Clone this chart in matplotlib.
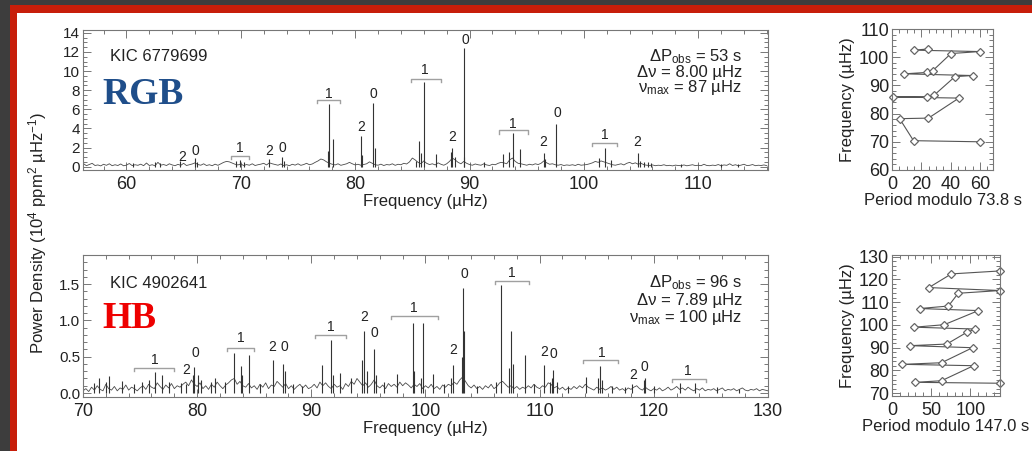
import numpy as np
import matplotlib
matplotlib.use('Agg')
import matplotlib.pyplot as plt
from matplotlib.patches import Rectangle
from matplotlib.ticker import MultipleLocator

plt.rcParams['font.family'] = ['Liberation Sans', 'DejaVu Sans']
plt.rcParams['mathtext.fontset'] = 'custom'
plt.rcParams['mathtext.rm'] = 'Liberation Sans'
plt.rcParams['mathtext.it'] = 'Liberation Sans:italic'
plt.rcParams['mathtext.bf'] = 'Liberation Sans:bold'

W, H = 1032, 451

# ---------------- RGB star (KIC 6779699) ----------------
rgb_floor_start, rgb_floor_step = 56.0, 0.25
rgb_floor = [
    0.15, 0.30, 0.10, 0.22, 0.35, 0.12, 0.18, 0.08, 0.25, 0.14, 0.30, 0.10, 0.20, 0.12, 0.28, 0.09, 0.16, 0.33, 0.11, 0.20,
    0.14, 0.26, 0.10, 0.38, 0.12, 0.20, 0.09, 0.45, 0.16, 0.22, 0.12, 0.30, 0.18, 0.10, 0.24, 0.14, 0.35, 0.12, 0.20, 0.28,
    0.40, 0.22, 0.15, 0.30, 0.12, 0.20, 0.10, 0.26, 0.14, 0.30, 0.45, 0.55, 0.50, 0.38, 0.25, 0.18, 0.28, 0.12, 0.22, 0.15,
    0.30, 0.12, 0.20, 0.26, 0.35, 0.18, 0.40, 0.30, 0.22, 0.15, 0.28, 0.12, 0.20, 0.10, 0.25, 0.16, 0.30, 0.14, 0.22, 0.35,
    0.20, 0.28, 0.45, 0.60, 0.80, 0.70, 0.50, 0.35, 0.25, 0.18, 0.30, 0.14, 0.22, 0.30, 0.45, 0.30, 0.18, 0.25, 0.15, 0.22,
    0.30, 0.50, 0.35, 0.20, 0.15, 0.26, 0.12, 0.22, 0.18, 0.30, 0.14, 0.25, 0.20, 0.35, 0.28, 0.50, 0.90, 0.70, 0.45, 0.30,
    0.60, 0.35, 0.22, 0.30, 0.18, 0.40, 0.25, 0.15, 0.30, 0.55, 0.90, 0.70, 0.45, 0.30, 0.55, 0.35, 0.22, 0.15, 0.28, 0.20,
    0.15, 0.30, 0.18, 0.12, 0.25, 0.20, 0.35, 0.45, 0.40, 0.30, 0.70, 0.90, 0.55, 0.35, 0.30, 0.22, 0.15, 0.25, 0.18, 0.30,
    0.22, 0.35, 0.60, 0.40, 0.25, 0.30, 0.20, 0.15, 0.22, 0.12, 0.18, 0.14, 0.20, 0.12, 0.25, 0.15, 0.18, 0.22, 0.30, 0.40,
    0.55, 0.45, 0.60, 0.50, 0.40, 0.30, 0.20, 0.15, 0.22, 0.30, 0.18, 0.35, 0.45, 0.30, 0.40, 0.25, 0.35, 0.20, 0.15, 0.12,
    0.18, 0.10, 0.15, 0.12, 0.20, 0.10, 0.14, 0.08, 0.16, 0.12, 0.10, 0.18, 0.09, 0.14, 0.20, 0.11, 0.15, 0.10, 0.25, 0.12,
    0.10, 0.16, 0.12, 0.22, 0.10, 0.18, 0.14, 0.30, 0.12, 0.20, 0.10, 0.16, 0.25, 0.12, 0.14, 0.22, 0.10, 0.15, 0.12, 0.18, 0.10,
]
rgb_peak_freq = [60.6, 62.5, 62.9, 64.7, 66.0, 66.2, 69.6, 69.9, 70.3, 72.5, 73.6, 73.8,
                 77.6, 77.7, 78.1, 80.5, 80.6, 81.6, 81.7, 85.3, 85.6, 85.8, 86.0, 87.05,
                 88.4, 88.5, 88.7, 89.5, 89.55, 91.3, 92.9, 93.45, 93.8, 94.4, 96.5, 96.6,
                 97.6, 101.3, 101.85, 102.35, 104.7, 104.9, 105.3, 105.6, 105.9, 108.5, 112.0, 113.5]
rgb_peak_pow = [0.4, 0.45, 0.35, 0.6, 0.9, 0.5, 0.6, 0.7, 0.5, 0.8, 1.0, 0.6,
                1.6, 6.6, 2.9, 3.2, 1.2, 6.7, 2.0, 0.6, 2.7, 1.4, 8.9, 1.3,
                1.5, 2.0, 1.0, 1.0, 12.4, 0.5, 1.3, 1.5, 3.5, 1.8, 1.4, 0.8,
                4.5, 0.9, 1.9, 0.7, 1.4, 0.6, 0.5, 0.45, 0.4, 0.3, 0.3, 0.3]
rgb_mode_freq = [64.9, 66.0, 69.9, 72.5, 73.6, 77.7, 80.5, 81.6, 86.1, 88.5, 89.6, 93.8, 96.4, 97.7, 101.8, 104.7]
rgb_mode_y = [1.0, 1.6, 2.0, 1.6, 2.0, 7.6, 4.2, 7.6, 10.1, 3.1, 13.3, 4.5, 2.6, 5.6, 3.3, 2.6]
rgb_mode_txt = ['2', '0', '1', '2', '0', '1', '2', '0', '1', '2', '0', '1', '2', '0', '1', '2']
rgb_br_lo = [69.1, 76.7, 84.9, 92.6, 100.7]
rgb_br_hi = [70.7, 78.7, 87.5, 95.1, 102.9]
rgb_br_y = [1.1, 7.0, 9.2, 3.8, 2.5]

# ---------------- HB star (KIC 4902641) ----------------
hb_floor_start, hb_floor_step = 70.0, 0.25
hb_floor = [
    0.03, 0.06, 0.02, 0.08, 0.04, 0.10, 0.05, 0.03, 0.12, 0.06, 0.04, 0.09, 0.03, 0.07, 0.05, 0.11, 0.04, 0.08, 0.06, 0.03,
    0.07, 0.10, 0.05, 0.12, 0.08, 0.06, 0.14, 0.09, 0.05, 0.11, 0.07, 0.13, 0.06, 0.10, 0.08, 0.12, 0.15, 0.10, 0.18, 0.12,
    0.09, 0.14, 0.06, 0.10, 0.05, 0.12, 0.08, 0.15, 0.10, 0.06, 0.11, 0.14, 0.18, 0.20, 0.12, 0.16, 0.10, 0.08, 0.13, 0.07,
    0.10, 0.05, 0.12, 0.08, 0.14, 0.06, 0.11, 0.09, 0.16, 0.12, 0.08, 0.13, 0.06, 0.10, 0.05, 0.09, 0.12, 0.07, 0.11, 0.06,
    0.08, 0.12, 0.07, 0.15, 0.10, 0.14, 0.09, 0.06, 0.12, 0.08, 0.10, 0.05, 0.13, 0.09, 0.16, 0.12, 0.20, 0.15, 0.10, 0.14,
    0.08, 0.12, 0.18, 0.10, 0.07, 0.11, 0.06, 0.13, 0.09, 0.12, 0.08, 0.15, 0.10, 0.14, 0.11, 0.07, 0.12, 0.09, 0.13, 0.06,
    0.10, 0.07, 0.12, 0.06, 0.09, 0.05, 0.11, 0.08, 0.12, 0.10, 0.15, 0.12, 0.18, 0.22, 0.16, 0.10, 0.07, 0.11, 0.06, 0.09,
    0.05, 0.10, 0.07, 0.12, 0.06, 0.09, 0.14, 0.16, 0.12, 0.08, 0.10, 0.06, 0.09, 0.05, 0.08, 0.06, 0.10, 0.07, 0.12, 0.08,
    0.06, 0.10, 0.08, 0.14, 0.12, 0.07, 0.09, 0.05, 0.08, 0.04, 0.07, 0.05, 0.09, 0.06, 0.10, 0.07, 0.12, 0.08, 0.06, 0.04,
    0.08, 0.05, 0.07, 0.04, 0.06, 0.09, 0.05, 0.08, 0.04, 0.06, 0.03, 0.07, 0.05, 0.08, 0.10, 0.06, 0.04, 0.08, 0.05, 0.03,
    0.06, 0.04, 0.07, 0.03, 0.05, 0.08, 0.04, 0.06, 0.09, 0.05, 0.07, 0.04, 0.08, 0.05, 0.03, 0.06, 0.04, 0.07, 0.03, 0.05,
    0.04, 0.06, 0.03, 0.05, 0.07, 0.03, 0.05, 0.04, 0.06, 0.03, 0.05, 0.07, 0.04, 0.03, 0.05, 0.04, 0.06, 0.03, 0.05, 0.04, 0.03,
]
hb_peak_freq = [71.0, 71.4, 72.0, 72.3, 73.4, 74.5, 75.2, 75.8, 76.35, 76.9, 77.5, 78.6, 79.0,
                79.6, 79.75, 80.05, 80.3, 81.2, 81.6, 82.4, 83.25, 83.8, 83.9, 84.55, 85.5,
                86.65, 87.5, 87.7, 88.4, 89.2, 90.9, 91.7, 91.9, 92.5, 93.5, 94.4, 94.6,
                94.9, 95.5, 95.7, 96.4, 97.5, 98.9, 99.0, 99.6, 99.8, 100.7, 101.6, 102.2,
                102.4, 103.2, 103.3, 103.4, 104.5, 106.2, 106.6, 107.3, 107.5, 107.7, 108.75,
                109.5, 110.4, 110.9, 111.1, 111.2, 111.5, 112.5, 114.1, 115.1, 115.25, 115.5,
                116.3, 117.5, 118.1, 119.1, 119.2, 120.0, 122.3, 123.6, 125.5, 127.5]
hb_peak_pow = [0.14, 0.20, 0.15, 0.23, 0.17, 0.12, 0.15, 0.18, 0.29, 0.25, 0.15, 0.14, 0.13,
               0.25, 0.36, 0.25, 0.18, 0.15, 0.20, 0.15, 0.55, 0.37, 0.25, 0.52, 0.12,
               0.45, 0.40, 0.30, 0.12, 0.10, 0.38, 0.73, 0.25, 0.28, 0.20, 0.45, 0.85,
               0.30, 0.61, 0.25, 0.15, 0.26, 0.96, 0.30, 0.20, 0.96, 0.26, 0.12, 0.20,
               0.38, 0.50, 1.45, 0.85, 0.10, 0.15, 1.49, 0.35, 0.85, 0.40, 0.52,
               0.12, 0.39, 0.15, 0.20, 0.32, 0.15, 0.10, 0.22, 0.20, 0.37, 0.18,
               0.10, 0.08, 0.13, 0.18, 0.20, 0.10, 0.14, 0.14, 0.08, 0.06]
hb_mode_freq = [76.3, 79.0, 79.8, 83.8, 86.6, 87.6, 91.7, 94.6, 95.5, 99.0, 102.4, 103.4,
                107.6, 110.4, 111.2, 115.4, 118.2, 119.2, 123.0]
hb_mode_y = [0.45, 0.32, 0.55, 0.76, 0.63, 0.63, 0.91, 1.05, 0.83, 1.17, 0.59, 1.64,
             1.65, 0.56, 0.54, 0.55, 0.25, 0.36, 0.30]
hb_mode_txt = ['1', '2', '0', '1', '2', '0', '1', '2', '0', '1', '2', '0',
               '1', '2', '0', '1', '2', '0', '1']
hb_br_lo = [74.5, 82.6, 90.3, 97.0, 106.1, 113.8, 121.6]
hb_br_hi = [78.0, 85.0, 93.0, 101.1, 109.1, 116.9, 124.6]
hb_br_y = [0.34, 0.62, 0.80, 1.06, 1.54, 0.45, 0.19]

# ---------------- period echelle diagrams ----------------
rgb_ech_x = [60.0, 14.7, 5.2, 24.9, 45.7, 0.5, 24.2, 28.7, 43.0, 55.0, 8.4, 23.8, 27.8, 40.3, 60.0, 14.7, 24.4]
rgb_ech_y = [70.0, 70.4, 78.2, 78.4, 85.5, 85.9, 86.0, 86.5, 93.1, 93.5, 94.1, 94.6, 95.2, 101.3, 102.0, 102.5, 102.9]
hb_ech_x = [138.0, 29.2, 63.3, 104.2, 13.3, 63.3, 102.9, 22.9, 70.0, 95.8, 106.3, 28.3, 66.7,
            110.4, 35.4, 72.1, 84.6, 138.0, 47.1, 75.8, 138.0]
hb_ech_y = [74.4, 74.8, 75.5, 82.1, 82.7, 83.4, 90.0, 90.9, 91.6, 96.8, 98.2, 99.0, 100.1,
            106.3, 107.2, 108.3, 113.9, 115.1, 116.4, 122.4, 123.7]

INK = '#222222'
SPINE = '#777777'


def ax_rect(left, top, right, bottom):
    return [left / W, 1 - bottom / H, (right - left) / W, (bottom - top) / H]


def style_axes(ax, xmaj, xmin, ymaj, ymin, xsize=13, ysize=11):
    ax.xaxis.set_major_locator(MultipleLocator(xmaj))
    ax.xaxis.set_minor_locator(MultipleLocator(xmin))
    ax.yaxis.set_major_locator(MultipleLocator(ymaj))
    ax.yaxis.set_minor_locator(MultipleLocator(ymin))
    ax.tick_params(which='both', direction='in', top=True, right=True, color=SPINE, width=0.7)
    ax.tick_params(which='major', length=6)
    ax.tick_params(which='minor', length=3)
    ax.tick_params(axis='x', labelsize=xsize, labelcolor=INK, pad=4)
    ax.tick_params(axis='y', labelsize=ysize, labelcolor=INK, pad=2)
    for s in ax.spines.values():
        s.set_color(SPINE)
        s.set_linewidth(0.8)


def draw_spectrum(ax, f0, step, floor, pk_f, pk_p, m_f, m_y, m_t, b_lo, b_hi, b_y, tick_drop):
    freq = f0 + step * np.arange(len(floor))
    ax.plot(freq, floor, color='#4a4a4a', lw=0.6)
    ax.vlines(pk_f, 0, pk_p, color='#333333', lw=0.8)
    for f, y, t in zip(m_f, m_y, m_t):
        ax.text(f, y, t, ha='center', va='center', fontsize=10, color=INK)
    for lo, hi, y in zip(b_lo, b_hi, b_y):
        ax.plot([lo, lo, hi, hi], [y - tick_drop, y, y, y - tick_drop], color='#a0a0a0', lw=1.0)


fig = plt.figure(figsize=(W / 100, H / 100), dpi=100, facecolor='#3d3d3d')
fig.patches.append(Rectangle((10 / W, 0), 1, (H - 5) / H, transform=fig.transFigure,
                             facecolor='#c71e0a', edgecolor='none', zorder=-2))
fig.patches.append(Rectangle((17 / W, 0), 1, (H - 13) / H, transform=fig.transFigure,
                             facecolor='white', edgecolor='none', zorder=-1))

# top spectrum
ax1 = fig.add_axes(ax_rect(83, 30, 768, 170))
draw_spectrum(ax1, rgb_floor_start, rgb_floor_step, rgb_floor, rgb_peak_freq, rgb_peak_pow,
              rgb_mode_freq, rgb_mode_y, rgb_mode_txt, rgb_br_lo, rgb_br_hi, rgb_br_y, 0.35)
ax1.set_xlim(56.2, 116.1)
ax1.set_ylim(-0.35, 14.3)
style_axes(ax1, 10, 2, 2, 0.5)
ax1.set_xlabel('Frequency (µHz)', fontsize=12, color=INK, labelpad=1)
ax1.text(0.039, 0.81, 'KIC 6779699', transform=ax1.transAxes, fontsize=12, color=INK, va='center')
ax1.text(0.028, 0.54, 'RGB', transform=ax1.transAxes, fontsize=27, fontweight='bold',
         family='Liberation Serif', color='#1f4e8a', va='center')
ax1.text(0.962, 0.807, r'ΔP$_{\rm obs}$ = 53 s', transform=ax1.transAxes, ha='right', va='center', fontsize=12, color=INK)
ax1.text(0.962, 0.693, 'Δν = 8.00 µHz', transform=ax1.transAxes, ha='right', va='center', fontsize=12, color=INK)
ax1.text(0.962, 0.586, r'ν$_{\rm max}$ = 87 µHz', transform=ax1.transAxes, ha='right', va='center', fontsize=12, color=INK)

# bottom spectrum
ax2 = fig.add_axes(ax_rect(83, 255, 768, 397))
draw_spectrum(ax2, hb_floor_start, hb_floor_step, hb_floor, hb_peak_freq, hb_peak_pow,
              hb_mode_freq, hb_mode_y, hb_mode_txt, hb_br_lo, hb_br_hi, hb_br_y, 0.04)
ax2.set_xlim(70, 130)
ax2.set_ylim(-0.055, 1.9)
style_axes(ax2, 10, 2, 0.5, 0.1)
ax2.yaxis.set_major_formatter(matplotlib.ticker.FormatStrFormatter('%.1f'))
ax2.set_xlabel('Frequency (µHz)', fontsize=12, color=INK, labelpad=1)
ax2.text(0.039, 0.80, 'KIC 4902641', transform=ax2.transAxes, fontsize=12, color=INK, va='center')
ax2.text(0.028, 0.55, 'HB', transform=ax2.transAxes, fontsize=27, fontweight='bold',
         family='Liberation Serif', color='#ee0000', va='center')
ax2.text(0.962, 0.803, r'ΔP$_{\rm obs}$ = 96 s', transform=ax2.transAxes, ha='right', va='center', fontsize=12, color=INK)
ax2.text(0.962, 0.683, 'Δν = 7.89 µHz', transform=ax2.transAxes, ha='right', va='center', fontsize=12, color=INK)
ax2.text(0.962, 0.563, r'ν$_{\rm max}$ = 100 µHz', transform=ax2.transAxes, ha='right', va='center', fontsize=12, color=INK)

fig.text(38 / W, 1 - 233 / H, r'Power Density (10$^4$ ppm$^2$ µHz$^{-1}$)', rotation=90,
         ha='center', va='center', fontsize=12, color=INK)

# top echelle
ax3 = fig.add_axes(ax_rect(892, 29, 993, 170))
ax3.plot(rgb_ech_x, rgb_ech_y, color='#555555', lw=0.8, marker='D', markersize=4.5,
         markerfacecolor='white', markeredgecolor='#666666', markeredgewidth=0.9, clip_on=False)
ax3.set_xlim(0, 69)
ax3.set_ylim(60, 110)
style_axes(ax3, 20, 5, 10, 2, xsize=13, ysize=13)
ax3.set_xlabel('Period modulo 73.8 s', fontsize=12, color=INK, labelpad=0)
ax3.set_ylabel('Frequency (µHz)', fontsize=12, color=INK, labelpad=3)

# bottom echelle
ax4 = fig.add_axes(ax_rect(892, 255, 1000, 396))
ax4.plot(hb_ech_x, hb_ech_y, color='#555555', lw=0.8, marker='D', markersize=4.5,
         markerfacecolor='white', markeredgecolor='#666666', markeredgewidth=0.9, clip_on=False)
ax4.set_xlim(0, 138)
ax4.set_ylim(68.8, 130.7)
style_axes(ax4, 50, 10, 10, 2, xsize=13, ysize=13)
ax4.set_xlabel('Period modulo 147.0 s', fontsize=12, color=INK, labelpad=0)
ax4.set_ylabel('Frequency (µHz)', fontsize=12, color=INK, labelpad=3)

fig.savefig('out.png', dpi=100, facecolor=fig.get_facecolor())
